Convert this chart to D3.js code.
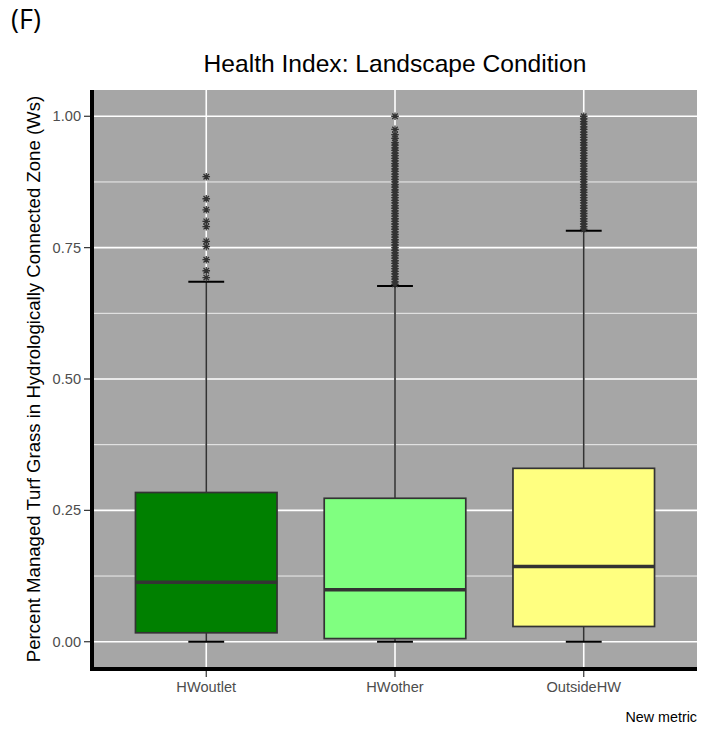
<!DOCTYPE html>
<html><head><meta charset="utf-8">
<script src="https://cdn.jsdelivr.net/npm/d3@7"></script>
<style>body{margin:0;background:#fff}svg{display:block}</style>
</head><body>
<script>
const categories = ["HWoutlet", "HWother", "OutsideHW"];
const fills = ["#008000", "#80FF80", "#FFFF80"];
const q1 = [0.017, 0.006, 0.029];
const medians = [0.113, 0.099, 0.143];
const q3 = [0.284, 0.273, 0.330];
const whiskerLow = [0.0, 0.0, 0.0];
const whiskerHigh = [0.685, 0.677, 0.782];
const outliersHWoutlet = [0.885, 0.843, 0.822, 0.800, 0.790, 0.762, 0.752, 0.727, 0.706, 0.693];
const outliersHWother = [1.0, 0.975, 0.965, 0.958, 0.95, 0.945, 0.94, 0.935, 0.93, 0.925, 0.92, 0.915, 0.91, 0.905, 0.90, 0.895, 0.89, 0.885, 0.88, 0.875, 0.87, 0.865, 0.86, 0.855, 0.85, 0.845, 0.84, 0.835, 0.83, 0.825, 0.82, 0.815, 0.81, 0.805, 0.80, 0.795, 0.79, 0.785, 0.78, 0.775, 0.77, 0.765, 0.76, 0.755, 0.75, 0.745, 0.74, 0.735, 0.73, 0.725, 0.72, 0.715, 0.71, 0.705, 0.70, 0.695, 0.69, 0.685, 0.68];
const outliersOutsideHW = [1.0, 0.995, 0.99, 0.985, 0.98, 0.975, 0.97, 0.965, 0.96, 0.955, 0.95, 0.945, 0.94, 0.935, 0.93, 0.925, 0.92, 0.915, 0.91, 0.905, 0.90, 0.895, 0.89, 0.885, 0.88, 0.875, 0.87, 0.865, 0.86, 0.855, 0.85, 0.845, 0.84, 0.835, 0.83, 0.825, 0.82, 0.815, 0.81, 0.805, 0.80, 0.795, 0.79, 0.785];
const outliers = [outliersHWoutlet, outliersHWother, outliersOutsideHW];
const yTicks = [0, 0.25, 0.5, 0.75, 1.0];
const yMinor = [0.125, 0.375, 0.625, 0.875];

const W = 714, H = 729;
const pL = 93, pR = 697, pT = 90, pB = 668;
const svg = d3.select("body").append("svg").attr("width", W).attr("height", H);

const y = d3.scaleLinear().domain([-0.05, 1.05]).range([pB, pT]);
const x = d3.scalePoint().domain(categories).range([pL, pR]).padding(0.6);
const unit = x.step();

svg.append("rect").attr("x", pL).attr("y", pT).attr("width", pR - pL).attr("height", pB - pT).attr("fill", "#A6A6A6");

svg.selectAll(".minor").data(yMinor).enter().append("line")
  .attr("x1", pL).attr("x2", pR).attr("y1", d => y(d)).attr("y2", d => y(d))
  .attr("stroke", "#fff").attr("stroke-width", 0.8);
svg.selectAll(".major").data(yTicks).enter().append("line")
  .attr("x1", pL).attr("x2", pR).attr("y1", d => y(d)).attr("y2", d => y(d))
  .attr("stroke", "#fff").attr("stroke-width", 1.6);
svg.selectAll(".vmajor").data(categories).enter().append("line")
  .attr("x1", d => x(d)).attr("x2", d => x(d)).attr("y1", pT).attr("y2", pB)
  .attr("stroke", "#fff").attr("stroke-width", 1.6);

const data = categories.map((c, i) => ({c, i}));
const g = svg.append("g");
const bw = unit * 0.75, capW = unit * 0.19;
data.forEach(d => {
  const cx = x(d.c);
  g.append("line").attr("x1", cx).attr("x2", cx).attr("y1", y(q3[d.i])).attr("y2", y(whiskerHigh[d.i])).attr("stroke", "#333").attr("stroke-width", 1.7);
  g.append("line").attr("x1", cx).attr("x2", cx).attr("y1", y(q1[d.i])).attr("y2", y(whiskerLow[d.i])).attr("stroke", "#333").attr("stroke-width", 1.7);
  [whiskerHigh[d.i], whiskerLow[d.i]].forEach(v => {
    g.append("line").attr("x1", cx - capW / 2).attr("x2", cx + capW / 2).attr("y1", y(v)).attr("y2", y(v)).attr("stroke", "#000").attr("stroke-width", 2);
  });
  g.append("rect").attr("x", cx - bw / 2).attr("width", bw).attr("y", y(q3[d.i])).attr("height", y(q1[d.i]) - y(q3[d.i]))
    .attr("fill", fills[d.i]).attr("stroke", "#333").attr("stroke-width", 1.7);
  g.append("line").attr("x1", cx - bw / 2).attr("x2", cx + bw / 2).attr("y1", y(medians[d.i])).attr("y2", y(medians[d.i])).attr("stroke", "#333").attr("stroke-width", 3.5);
  const r = 3.8, rd = r * 0.72;
  const star = `M${-r},0L${r},0M0,${-r}L0,${r}M${-rd},${-rd}L${rd},${rd}M${-rd},${rd}L${rd},${-rd}`;
  g.selectAll(null).data(outliers[d.i]).enter().append("path")
    .attr("d", star).attr("transform", v => `translate(${cx},${y(v)})`)
    .attr("stroke", "#333").attr("stroke-width", 1.3).attr("fill", "none");
});

svg.append("line").attr("x1", pL - 1).attr("x2", pL - 1).attr("y1", pT).attr("y2", pB + 3).attr("stroke", "#000").attr("stroke-width", 4);
svg.append("line").attr("x1", pL - 3).attr("x2", pR).attr("y1", pB + 1).attr("y2", pB + 1).attr("stroke", "#000").attr("stroke-width", 4);

const fs = 14.6;
const yAxis = svg.append("g");
yTicks.forEach(t => {
  yAxis.append("line").attr("x1", pL - 9).attr("x2", pL - 3).attr("y1", y(t)).attr("y2", y(t)).attr("stroke", "#333").attr("stroke-width", 1.2);
  yAxis.append("text").attr("x", pL - 12).attr("y", y(t)).attr("dy", "0.35em").attr("text-anchor", "end")
    .attr("font-family", "Liberation Sans, Arial, sans-serif").attr("font-size", fs).attr("fill", "#4D4D4D").text(d3.format(".2f")(t));
});
categories.forEach(c => {
  svg.append("line").attr("x1", x(c)).attr("x2", x(c)).attr("y1", pB + 3).attr("y2", pB + 9).attr("stroke", "#333").attr("stroke-width", 1.2);
  svg.append("text").attr("x", x(c)).attr("y", pB + 24).attr("text-anchor", "middle")
    .attr("font-family", "Liberation Sans, Arial, sans-serif").attr("font-size", fs).attr("fill", "#4D4D4D").text(c);
});

svg.append("text").attr("x", (pL + pR) / 2).attr("y", 72).attr("text-anchor", "middle")
  .attr("font-family", "Liberation Sans, Arial, sans-serif").attr("font-size", 24.6).attr("fill", "#000").text("Health Index: Landscape Condition");
svg.append("text").attr("transform", `translate(40,${(pT + pB) / 2}) rotate(-90)`).attr("text-anchor", "middle")
  .attr("font-family", "Liberation Sans, Arial, sans-serif").attr("font-size", 18.6).attr("fill", "#000").text("Percent Managed Turf Grass in Hydrologically Connected Zone (Ws)");
svg.append("text").attr("x", pR).attr("y", 722).attr("text-anchor", "end")
  .attr("font-family", "Liberation Sans, Arial, sans-serif").attr("font-size", 14.3).attr("fill", "#000").text("New metric");
svg.append("text").attr("x", 11).attr("y", 29).attr("font-family", "Open Sans, sans-serif").attr("font-size", 27).attr("fill", "#000").text("(F)");
</script>
</body></html>
